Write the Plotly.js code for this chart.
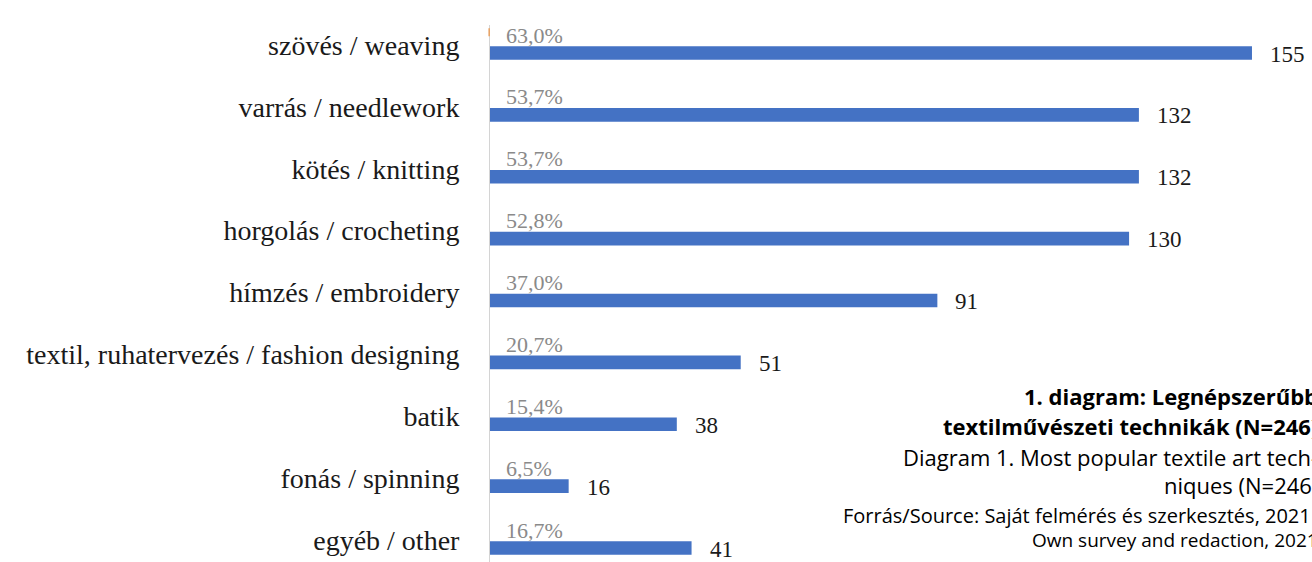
<!DOCTYPE html>
<html><head><meta charset="utf-8">
<script src="https://cdn.plot.ly/plotly-3.0.1.min.js"></script>
<style>html,body{margin:0;padding:0;background:#fff}#chart{width:1312px;height:562px}</style>
</head><body><div id="chart"></div>
<script>
const categories = ["szövés / weaving","varrás / needlework","kötés / knitting","horgolás / crocheting","hímzés / embroidery","textil, ruhatervezés / fashion designing","batik","fonás / spinning","egyéb / other"];
const counts = [155,132,132,130,91,51,38,16,41];
const percentLabels = ["63,0%","53,7%","53,7%","52,8%","37,0%","20,7%","15,4%","6,5%","16,7%"];
const captionLines = [
  {text:"<b>1. diagram: Legnépszerűbb</b>", size:22, right:1320},
  {text:"<b>textilművészeti technikák (N=246)</b>", size:22, right:1320},
  {text:"Diagram 1. Most popular textile art tech-", size:22, right:1320},
  {text:"niques (N=246)", size:22, right:1320},
  {text:"Forrás/Source: Saját felmérés és szerkesztés, 2021 /", size:20, right:1326},
  {text:"Own survey and redaction, 2021", size:19, right:1320}
];

const idx = categories.map((c,i)=>i);
const serif = "Liberation Serif, Times New Roman, serif";
const W=1312, L=490, T=25, H=562-T;
const plotW=W-L;
const pxPerUnit = 4.916;
const xmax = plotW/pxPerUnit;
const toPaperX = px => (px-L)/plotW;
const toPaperY = py => 1-(py-T)/H;

const annotations = [];
idx.forEach(i=>{
  annotations.push({x:0,y:i,xref:'x',yref:'y',text:percentLabels[i],showarrow:false,xanchor:'left',yanchor:'middle',xshift:14,yshift:18,font:{family:serif,size:22,color:'#8a8a8a'}});
  annotations.push({x:counts[i],y:i,xref:'x',yref:'y',text:String(counts[i]),showarrow:false,xanchor:'left',yanchor:'middle',xshift:16,yshift:-1,font:{family:serif,size:23,color:'#1a1a1a'}});
});
const capY = [396,426,457,485,515,540];
captionLines.forEach((c,k)=>{
  annotations.push({x:toPaperX(c.right),y:toPaperY(capY[k]),xref:'paper',yref:'paper',text:c.text,showarrow:false,xanchor:'right',yanchor:'middle',font:{family:"Open Sans, Noto Sans, sans-serif",size:c.size,color:'#000'}});
});

const data = [{
  type:'bar', orientation:'h', x:counts, y:idx,
  marker:{color:'#4472C4'}, width:0.22, hoverinfo:'skip'
}];

const layout = {
  width:1312, height:562,
  margin:{l:L,r:0,t:T,b:0},
  paper_bgcolor:'#fff', plot_bgcolor:'#fff',
  showlegend:false,
  xaxis:{range:[0,xmax],showgrid:false,zeroline:false,showticklabels:false,ticks:'',showline:false},
  yaxis:{range:[8.226,-0.4525],tickmode:'array',tickvals:idx.map(i=>i-0.13),ticktext:categories,
         showgrid:false,zeroline:false,ticks:'',showline:true,linecolor:'#d4d4d4',linewidth:1,
         ticklabelstandoff:24,tickfont:{family:serif,size:28,color:'#1a1a1a'}},
  shapes:[{type:'line',xref:'paper',yref:'y',x0:-0.001,x1:-0.001,y0:-0.4,y1:-0.27,line:{color:'#e8a060',width:1.5}}],
  annotations:annotations
};
Plotly.newPlot('chart',data,layout,{staticPlot:true,displayModeBar:false});
</script></body></html>
